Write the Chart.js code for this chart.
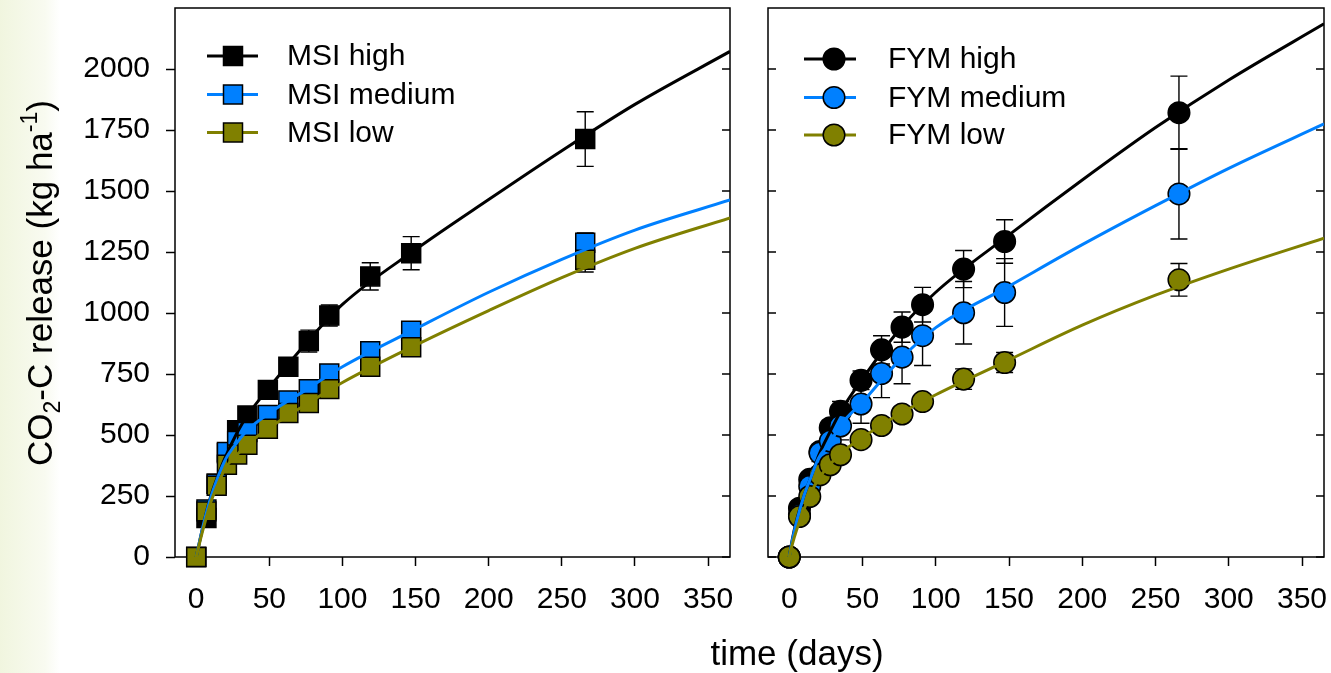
<!DOCTYPE html>
<html>
<head>
<meta charset="utf-8">
<script src="https://cdn.jsdelivr.net/npm/chart.js@4.4.0/dist/chart.umd.min.js"></script>
<style>
  html, body { margin: 0; padding: 0; background: #fff; }
  #wrap { position: relative; width: 1331px; height: 673px; overflow: hidden; }
  #wash {
    position: absolute; left: 0; top: 0; width: 60px; height: 673px;
    background: linear-gradient(to right, rgba(236,242,212,0.75), rgba(242,246,226,0.5) 75%, rgba(255,255,255,0));
  }
  canvas { position: absolute; left: 0; top: 0; }
</style>
</head>
<body>
<div id="wrap">
  <div id="wash"></div>
  <canvas id="msi" width="1331" height="673"></canvas>
  <canvas id="fym" width="1331" height="673"></canvas>
</div>
<script>
// ---- data ----
const days = [0, 7, 14, 21, 28, 35, 49, 63, 77, 91, 119, 147, 266];

const msiHigh = [0, 160, 300, 425, 520, 580, 685, 780, 885, 990, 1150, 1245, 1713];
const msiHighErr = [0, 10, 10, 12, 15, 18, 20, 25, 45, 43, 56, 68, 112];
const msiMedium = [0, 195, 300, 430, 475, 512, 582, 642, 688, 752, 843, 927, 1288];
const msiMediumErr = [0, 8, 8, 10, 10, 12, 12, 15, 15, 18, 20, 22, 40];
const msiLow = [0, 187, 292, 378, 420, 460, 526, 590, 631, 688, 780, 860, 1218];
const msiLowErr = [0, 8, 8, 10, 10, 12, 12, 15, 15, 18, 20, 25, 50];

const fymHigh = [0, 200, 318, 432, 530, 597, 724, 849, 942, 1034, 1180, 1293, 1821];
const fymHighErr = [0, 15, 20, 25, 30, 40, 38, 58, 62, 71, 76, 89, 150];
const fymMedium = [0, 172, 290, 426, 475, 537, 627, 752, 819, 907, 1001, 1084, 1488];
const fymMediumErr = [0, 15, 25, 35, 45, 57, 79, 99, 109, 122, 128, 139, 185];
const fymLow = [0, 166, 248, 337, 378, 419, 481, 539, 586, 637, 729, 797, 1136];
const fymLowErr = [0, 8, 10, 12, 12, 15, 15, 15, 20, 20, 42, 41, 67];

// fitted curves at these days
const fitDays = [0, 2, 5, 10, 15, 20, 28, 35, 50, 75, 100, 150, 200, 250, 300, 365];
const msiHighFit = [0, 55, 135, 250, 335, 410, 510, 580, 695, 875, 1035, 1260, 1465, 1665, 1855, 2072];
const msiMediumFit = [0, 55, 135, 245, 330, 400, 470, 520, 590, 685, 780, 935, 1085, 1220, 1340, 1463];
const msiLowFit = [0, 50, 120, 225, 300, 365, 420, 462, 530, 625, 715, 868, 1010, 1145, 1265, 1390];
const fymHighFit = [0, 70, 150, 250, 330, 415, 515, 595, 730, 930, 1085, 1320, 1545, 1760, 1955, 2185];
const fymMediumFit = [0, 65, 145, 250, 330, 405, 470, 540, 635, 805, 940, 1110, 1280, 1440, 1593, 1775];
const fymLowFit = [0, 50, 110, 195, 265, 320, 380, 425, 490, 585, 665, 808, 950, 1073, 1180, 1307];

const xTicks = [0, 50, 100, 150, 200, 250, 300, 350];
const yTicks = [0, 250, 500, 750, 1000, 1250, 1500, 1750, 2000];

const colors = { high: "#000000", medium: "#0080ff", low: "#808000" };
const FONT = "'Liberation Sans', Arial, Helvetica, sans-serif";

Chart.defaults.color = "#000";
Chart.defaults.font.family = FONT;

const pts = (xs, ys) => xs.map((x, i) => ({ x: x, y: ys[i] }));

// frame, inward ticks and error bars (under the markers)
const underPlugin = {
  id: "under",
  beforeDatasetsDraw(chart, args, opts) {
    const { ctx, chartArea: a, scales } = chart;
    ctx.save();
    ctx.strokeStyle = "#000";
    ctx.lineWidth = 1.5;
    ctx.strokeRect(a.left, a.top, a.right - a.left, a.bottom - a.top);
    ctx.beginPath();
    yTicks.forEach((v) => {
      const y = scales.y.getPixelForValue(v);
      ctx.moveTo(a.right, y);
      ctx.lineTo(a.right - 8, y);
      if (opts.innerLeft) {
        ctx.moveTo(a.left, y);
        ctx.lineTo(a.left + 8, y);
      }
    });
    ctx.stroke();

    // error bars
    ctx.lineWidth = 1.4;
    opts.errors.forEach((s) => {
      s.vals.forEach((v, i) => {
        const e = s.err[i];
        if (!e) return;
        const x = scales.x.getPixelForValue(days[i]);
        const y1 = scales.y.getPixelForValue(v + e);
        const y2 = scales.y.getPixelForValue(v - e);
        ctx.beginPath();
        ctx.moveTo(x, y1); ctx.lineTo(x, y2);
        ctx.moveTo(x - 8.5, y1); ctx.lineTo(x + 8.5, y1);
        ctx.moveTo(x - 8.5, y2); ctx.lineTo(x + 8.5, y2);
        ctx.stroke();
      });
    });
    ctx.restore();
  },
};

function drawMarker(ctx, style, x, y, fill) {
  ctx.fillStyle = fill;
  ctx.strokeStyle = "#000";
  ctx.lineWidth = 1.5;
  ctx.beginPath();
  if (style === "rect") ctx.rect(x - 9.5, y - 9.5, 19, 19);
  else ctx.arc(x, y, 10.8, 0, Math.PI * 2);
  ctx.fill();
  ctx.stroke();
}

const legendPlugin = {
  id: "legendBox",
  afterDraw(chart, args, opts) {
    const ctx = chart.ctx;
    ctx.save();
    opts.items.forEach((it, i) => {
      const y = opts.rows[i];
      ctx.strokeStyle = it.color;
      ctx.lineWidth = 3;
      ctx.beginPath();
      ctx.moveTo(opts.x1, y);
      ctx.lineTo(opts.x2, y);
      ctx.stroke();
      drawMarker(ctx, opts.style, opts.mx, y, it.color);
      ctx.fillStyle = "#000";
      ctx.font = "30px " + FONT;
      ctx.textBaseline = "middle";
      ctx.textAlign = "left";
      ctx.fillText(it.label, opts.tx, y + 1);
    });
    ctx.restore();
  },
};

const titlePlugin = {
  id: "titles",
  afterDraw(chart, args, opts) {
    if (!opts.show) return;
    const ctx = chart.ctx;
    ctx.save();
    ctx.fillStyle = "#000";
    ctx.textBaseline = "alphabetic";
    ctx.font = "35px " + FONT;
    ctx.textAlign = "center";
    ctx.fillText("time (days)", 797, 665);

    // y title with sub/superscript
    const parts = [
      { t: "CO", s: 35, dy: 0 },
      { t: "2", s: 23, dy: 8 },
      { t: "-C release (kg ha", s: 35, dy: 0 },
      { t: "-1", s: 23, dy: -15 },
      { t: ")", s: 35, dy: 0 },
    ];
    let total = 0;
    parts.forEach((p) => {
      ctx.font = p.s + "px " + FONT;
      p.w = ctx.measureText(p.t).width;
      total += p.w;
    });
    ctx.translate(52, 283);
    ctx.rotate(-Math.PI / 2);
    ctx.textAlign = "left";
    let x = -total / 2;
    parts.forEach((p) => {
      ctx.font = p.s + "px " + FONT;
      ctx.fillText(p.t, x, p.dy);
      x += p.w;
    });
    ctx.restore();
  },
};

function makePanel(id, cfg) {
  const ctx = document.getElementById(id).getContext("2d");
  const series = [
    { vals: cfg.high, err: cfg.highErr, fit: cfg.highFit, color: colors.high },
    { vals: cfg.medium, err: cfg.mediumErr, fit: cfg.mediumFit, color: colors.medium },
    { vals: cfg.low, err: cfg.lowErr, fit: cfg.lowFit, color: colors.low },
  ];
  const fitSets = series.map((s) => ({
    data: pts(fitDays, s.fit),
    showLine: true,
    borderColor: s.color,
    borderWidth: 3,
    pointRadius: 0,
    cubicInterpolationMode: "monotone",
  }));
  const pointSets = series.map((s) => ({
    data: pts(days, s.vals),
    showLine: false,
    pointStyle: cfg.style,
    pointRadius: cfg.style === "rect" ? 13.4 : 10.8,
    pointBackgroundColor: s.color,
    pointBorderColor: "#000",
    pointBorderWidth: 1.5,
    clip: false,
  }));
  // first dataset is drawn on top: curves, then low, medium, high markers
  const datasets = [fitSets[2], fitSets[1], fitSets[0], pointSets[2], pointSets[1], pointSets[0]];

  return new Chart(ctx, {
    type: "scatter",
    data: { datasets: datasets },
    plugins: [underPlugin, legendPlugin, titlePlugin],
    options: {
      responsive: false,
      animation: false,
      events: [],
      layout: { autoPadding: false, padding: { left: 0, right: cfg.padRight, top: 8, bottom: 0 } },
      plugins: {
        legend: { display: false },
        tooltip: { enabled: false },
        under: { errors: series, innerLeft: cfg.innerLeft },
        legendBox: {
          items: [
            { label: cfg.names[0], color: colors.high },
            { label: cfg.names[1], color: colors.medium },
            { label: cfg.names[2], color: colors.low },
          ],
          style: cfg.style,
          rows: cfg.legendRows,
          x1: cfg.legendX[0],
          x2: cfg.legendX[1],
          mx: cfg.legendX[2],
          tx: cfg.legendX[3],
        },
        titles: { show: cfg.titles },
      },
      scales: {
        x: {
          type: "linear",
          min: -14.5,
          max: 365,
          afterBuildTicks: (s) => { s.ticks = xTicks.map((v) => ({ value: v })); },
          afterFit: (s) => { s.height = 116; s.paddingLeft = 0; s.paddingRight = 0; },
          ticks: { font: { size: 30 }, padding: 16, maxRotation: 0, callback: (v) => String(v) },
          grid: { drawOnChartArea: false, tickLength: 9, tickWidth: 1.5, tickColor: "#000" },
          border: { display: false },
        },
        y: {
          type: "linear",
          min: 0,
          max: 2250,
          afterBuildTicks: (s) => { s.ticks = yTicks.map((v) => ({ value: v })); },
          afterFit: (s) => { s.width = cfg.yWidth; s.paddingTop = 0; s.paddingBottom = 0; },
          ticks: { display: cfg.yLabels, font: { size: 30 }, padding: 16, callback: (v) => String(v) },
          grid: { display: cfg.yLabels, drawOnChartArea: false, tickLength: 9, tickWidth: 1.5, tickColor: "#000" },
          border: { display: false },
        },
      },
    },
  });
}

makePanel("msi", {
  high: msiHigh, highErr: msiHighErr, highFit: msiHighFit,
  medium: msiMedium, mediumErr: msiMediumErr, mediumFit: msiMediumFit,
  low: msiLow, lowErr: msiLowErr, lowFit: msiLowFit,
  names: ["MSI high", "MSI medium", "MSI low"],
  style: "rect",
  yWidth: 175,
  padRight: 601,
  yLabels: true,
  innerLeft: false,
  legendRows: [56, 94.5, 132.5],
  legendX: [207, 258, 233, 287],
  titles: true,
});

makePanel("fym", {
  high: fymHigh, highErr: fymHighErr, highFit: fymHighFit,
  medium: fymMedium, mediumErr: fymMediumErr, mediumFit: fymMediumFit,
  low: fymLow, lowErr: fymLowErr, lowFit: fymLowFit,
  names: ["FYM high", "FYM medium", "FYM low"],
  style: "circle",
  yWidth: 768,
  padRight: 7,
  yLabels: false,
  innerLeft: true,
  legendRows: [59, 97.5, 135],
  legendX: [804, 856, 834, 888],
  titles: false,
});
</script>
</body>
</html>
